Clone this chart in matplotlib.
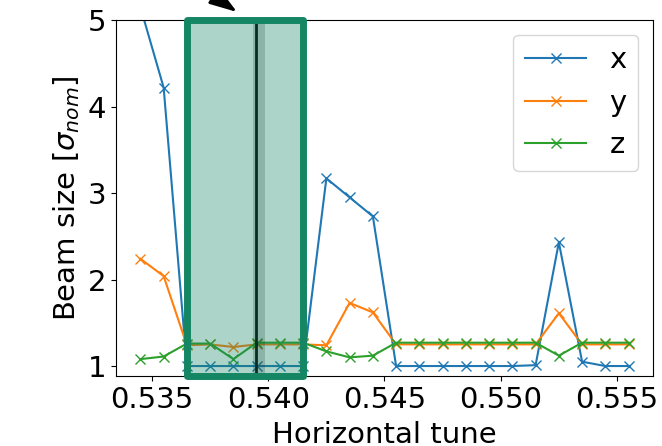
import matplotlib
matplotlib.use("Agg")
import matplotlib.pyplot as plt
import numpy as np

# horizontal tune scan
tune = [0.5345, 0.5355, 0.5365, 0.5375, 0.5385, 0.5395, 0.5405, 0.5415,
        0.5425, 0.5435, 0.5445, 0.5455, 0.5465, 0.5475, 0.5485, 0.5495,
        0.5505, 0.5515, 0.5525, 0.5535, 0.5545, 0.5555]

size_x = [5.15, 4.22, 1.0, 1.0, 1.0, 1.0, 1.0, 1.0,
          3.17, 2.95, 2.73, 1.0, 1.0, 1.0, 1.0, 1.0,
          1.0, 1.01, 2.43, 1.05, 1.0, 1.0]
size_y = [2.24, 2.04, 1.24, 1.25, 1.22, 1.25, 1.25, 1.25,
          1.24, 1.73, 1.62, 1.25, 1.25, 1.25, 1.25, 1.25,
          1.25, 1.25, 1.61, 1.25, 1.25, 1.25]
size_z = [1.08, 1.11, 1.26, 1.26, 1.08, 1.27, 1.27, 1.27,
          1.17, 1.10, 1.12, 1.27, 1.27, 1.27, 1.27, 1.27,
          1.27, 1.27, 1.12, 1.27, 1.27, 1.27]

window = (0.5365, 0.5415)   # selected working point region
band = (0.53936, 0.53984)
nominal = 0.53949
green = "#158664"

plt.rcParams["font.size"] = 21

fig = plt.figure(figsize=(6.62, 4.46), dpi=100)
ax = fig.add_axes([0.1752, 0.157, 0.8112, 0.798])

ax.plot(tune, size_x, "-x", color="C0", lw=1.5, ms=7, label="x")
ax.plot(tune, size_y, "-x", color="C1", lw=1.5, ms=7, label="y")
ax.plot(tune, size_z, "-x", color="C2", lw=1.5, ms=7, label="z")

ax.axvspan(band[0], band[1], color="black", alpha=0.2, lw=0, zorder=2.5)
ax.axvline(nominal, color="black", lw=2, zorder=2.5)
ax.axvspan(window[0], window[1], facecolor=matplotlib.colors.to_rgba(green, 0.35),
           edgecolor=green, lw=5, joinstyle="round", zorder=3, clip_on=False)

# arrow coming in from above the figure (only the head is visible)
ax.annotate("", xy=(237, 434), xycoords="figure pixels",
            xytext=(114, 519), textcoords="figure pixels",
            arrowprops=dict(arrowstyle="-|>,head_length=0.6,head_width=0.2",
                            color="black", lw=2, mutation_scale=28,
                            shrinkA=0, shrinkB=0),
            annotation_clip=False)

ax.set_ylim(0.885, 5)
ax.set_xticks([0.535, 0.540, 0.545, 0.550, 0.555])
ax.set_yticks([1, 2, 3, 4, 5])
ax.set_xlabel("Horizontal tune", labelpad=5)
ax.set_ylabel(r"Beam size [$\sigma_{nom}$]")
ax.legend(loc="upper right", handlelength=2.1)

fig.savefig("out.png", dpi=100)
